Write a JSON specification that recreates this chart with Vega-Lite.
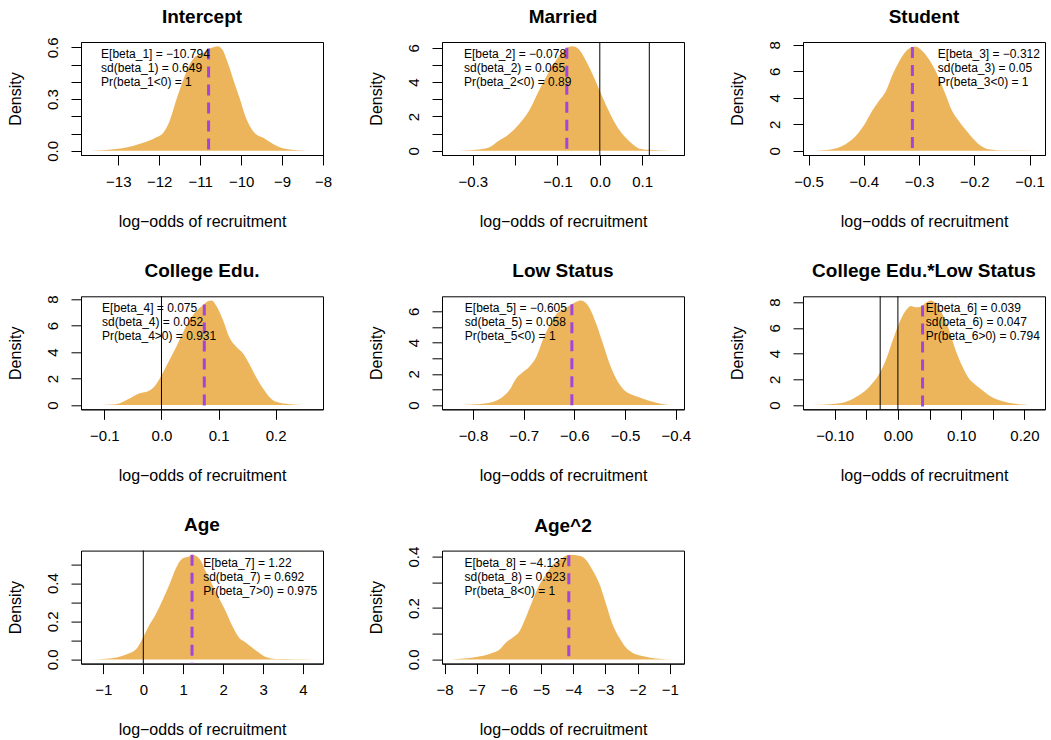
{
"$schema":"https://vega.github.io/schema/vega-lite/v6.json",
"padding":{"left":6,"top":7,"right":0,"bottom":0},
"config":{"font":"Liberation Sans","view":{"stroke":"black","strokeWidth":1},
"axis":{"grid":false,"domainColor":"black","tickColor":"black","labelColor":"black","titleColor":"black","tickSize":10,"labelFontSize":15,"titleFontSize":16,"titleFontWeight":"normal","labelFlush":false,"labelOverlap":false,"labelBound":false},
"axisX":{"labelPadding":9,"titlePadding":24,"labelAngle":0,"labelBaseline":"top"},
"axisY":{"labelAngle":270,"labelAlign":"center","labelBaseline":"alphabetic","labelPadding":14,"titlePadding":22},
"title":{"fontSize":19,"fontWeight":"bold","anchor":"middle","frame":"group","offset":15,"color":"black"}},
"datasets":{
"dens":[
{"p":1,"x":-13.69,"y":0},{"p":1,"x":-13.4,"y":0.003},{"p":1,"x":-13.06,"y":0.01},{"p":1,"x":-12.75,"y":0.022},{"p":1,"x":-12.49,"y":0.04},{"p":1,"x":-12.25,"y":0.058},{"p":1,"x":-12.08,"y":0.077},{"p":1,"x":-11.9,"y":0.105},{"p":1,"x":-11.75,"y":0.17},{"p":1,"x":-11.59,"y":0.29},{"p":1,"x":-11.43,"y":0.4},{"p":1,"x":-11.26,"y":0.5},{"p":1,"x":-11.1,"y":0.55},{"p":1,"x":-10.94,"y":0.565},{"p":1,"x":-10.8,"y":0.59},{"p":1,"x":-10.7,"y":0.6},{"p":1,"x":-10.57,"y":0.607},{"p":1,"x":-10.45,"y":0.585},{"p":1,"x":-10.37,"y":0.54},{"p":1,"x":-10.28,"y":0.48},{"p":1,"x":-10.2,"y":0.42},{"p":1,"x":-10.04,"y":0.31},{"p":1,"x":-9.88,"y":0.19},{"p":1,"x":-9.71,"y":0.115},{"p":1,"x":-9.6,"y":0.09},{"p":1,"x":-9.47,"y":0.077},{"p":1,"x":-9.35,"y":0.058},{"p":1,"x":-9.22,"y":0.04},{"p":1,"x":-8.98,"y":0.015},{"p":1,"x":-8.75,"y":0.006},{"p":1,"x":-8.5,"y":0.002},{"p":1,"x":-8.22,"y":0},
{"p":2,"x":-0.352,"y":0},{"p":2,"x":-0.32,"y":0.02},{"p":2,"x":-0.294,"y":0.06},{"p":2,"x":-0.262,"y":0.19},{"p":2,"x":-0.239,"y":0.58},{"p":2,"x":-0.215,"y":0.97},{"p":2,"x":-0.191,"y":1.55},{"p":2,"x":-0.168,"y":2.3},{"p":2,"x":-0.144,"y":3.5},{"p":2,"x":-0.12,"y":4.6},{"p":2,"x":-0.097,"y":5.5},{"p":2,"x":-0.078,"y":6.0},{"p":2,"x":-0.065,"y":6.09},{"p":2,"x":-0.049,"y":5.9},{"p":2,"x":-0.034,"y":5.3},{"p":2,"x":-0.018,"y":4.5},{"p":2,"x":-0.002,"y":3.6},{"p":2,"x":0.014,"y":2.7},{"p":2,"x":0.029,"y":1.93},{"p":2,"x":0.045,"y":1.26},{"p":2,"x":0.061,"y":0.77},{"p":2,"x":0.077,"y":0.39},{"p":2,"x":0.092,"y":0.14},{"p":2,"x":0.116,"y":0.06},{"p":2,"x":0.155,"y":0.02},{"p":2,"x":0.178,"y":0},
{"p":3,"x":-0.494,"y":0},{"p":3,"x":-0.457,"y":0.12},{"p":3,"x":-0.433,"y":0.5},{"p":3,"x":-0.415,"y":1.1},{"p":3,"x":-0.397,"y":2.1},{"p":3,"x":-0.385,"y":3.0},{"p":3,"x":-0.373,"y":3.75},{"p":3,"x":-0.36,"y":4.5},{"p":3,"x":-0.348,"y":5.75},{"p":3,"x":-0.336,"y":6.75},{"p":3,"x":-0.324,"y":7.5},{"p":3,"x":-0.312,"y":7.83},{"p":3,"x":-0.306,"y":7.87},{"p":3,"x":-0.3,"y":7.75},{"p":3,"x":-0.288,"y":7.25},{"p":3,"x":-0.276,"y":6.5},{"p":3,"x":-0.264,"y":5.5},{"p":3,"x":-0.252,"y":4.25},{"p":3,"x":-0.24,"y":3.0},{"p":3,"x":-0.228,"y":2.25},{"p":3,"x":-0.216,"y":1.6},{"p":3,"x":-0.204,"y":1.0},{"p":3,"x":-0.192,"y":0.5},{"p":3,"x":-0.174,"y":0.12},{"p":3,"x":-0.144,"y":0.03},{"p":3,"x":-0.12,"y":0.03},{"p":3,"x":-0.088,"y":0},
{"p":4,"x":-0.125,"y":0},{"p":4,"x":-0.08,"y":0.07},{"p":4,"x":-0.056,"y":0.5},{"p":4,"x":-0.039,"y":0.87},{"p":4,"x":-0.021,"y":1.1},{"p":4,"x":-0.009,"y":1.6},{"p":4,"x":0.002,"y":2.4},{"p":4,"x":0.014,"y":3.4},{"p":4,"x":0.026,"y":4.4},{"p":4,"x":0.037,"y":5.4},{"p":4,"x":0.049,"y":6.4},{"p":4,"x":0.061,"y":7.1},{"p":4,"x":0.073,"y":7.55},{"p":4,"x":0.081,"y":7.85},{"p":4,"x":0.088,"y":7.9},{"p":4,"x":0.096,"y":7.5},{"p":4,"x":0.108,"y":6.4},{"p":4,"x":0.119,"y":5.1},{"p":4,"x":0.131,"y":4.4},{"p":4,"x":0.143,"y":3.9},{"p":4,"x":0.154,"y":3.1},{"p":4,"x":0.166,"y":2.1},{"p":4,"x":0.178,"y":1.25},{"p":4,"x":0.189,"y":0.62},{"p":4,"x":0.201,"y":0.25},{"p":4,"x":0.225,"y":0.07},{"p":4,"x":0.267,"y":0},
{"p":5,"x":-0.843,"y":0},{"p":5,"x":-0.793,"y":0.06},{"p":5,"x":-0.761,"y":0.2},{"p":5,"x":-0.741,"y":0.53},{"p":5,"x":-0.728,"y":0.96},{"p":5,"x":-0.715,"y":1.7},{"p":5,"x":-0.702,"y":2.1},{"p":5,"x":-0.689,"y":2.46},{"p":5,"x":-0.675,"y":3.1},{"p":5,"x":-0.662,"y":4.2},{"p":5,"x":-0.649,"y":5.1},{"p":5,"x":-0.636,"y":5.8},{"p":5,"x":-0.623,"y":6.1},{"p":5,"x":-0.61,"y":6.35},{"p":5,"x":-0.597,"y":6.6},{"p":5,"x":-0.587,"y":6.69},{"p":5,"x":-0.57,"y":6.2},{"p":5,"x":-0.557,"y":5.2},{"p":5,"x":-0.544,"y":3.95},{"p":5,"x":-0.531,"y":2.67},{"p":5,"x":-0.518,"y":1.7},{"p":5,"x":-0.505,"y":1.07},{"p":5,"x":-0.485,"y":0.64},{"p":5,"x":-0.466,"y":0.43},{"p":5,"x":-0.446,"y":0.21},{"p":5,"x":-0.426,"y":0.06},{"p":5,"x":-0.402,"y":0},
{"p":6,"x":-0.136,"y":0},{"p":6,"x":-0.103,"y":0.08},{"p":6,"x":-0.082,"y":0.26},{"p":6,"x":-0.061,"y":0.78},{"p":6,"x":-0.045,"y":1.43},{"p":6,"x":-0.029,"y":2.47},{"p":6,"x":-0.019,"y":3.5},{"p":6,"x":-0.008,"y":5.06},{"p":6,"x":0.003,"y":6.5},{"p":6,"x":0.013,"y":7.4},{"p":6,"x":0.021,"y":7.7},{"p":6,"x":0.028,"y":7.6},{"p":6,"x":0.036,"y":7.65},{"p":6,"x":0.044,"y":7.95},{"p":6,"x":0.052,"y":8.13},{"p":6,"x":0.06,"y":7.9},{"p":6,"x":0.07,"y":7.1},{"p":6,"x":0.081,"y":5.84},{"p":6,"x":0.091,"y":4.3},{"p":6,"x":0.102,"y":3.0},{"p":6,"x":0.112,"y":2.08},{"p":6,"x":0.123,"y":1.56},{"p":6,"x":0.133,"y":1.17},{"p":6,"x":0.143,"y":0.78},{"p":6,"x":0.159,"y":0.39},{"p":6,"x":0.175,"y":0.18},{"p":6,"x":0.196,"y":0.05},{"p":6,"x":0.218,"y":0},
{"p":7,"x":-1.336,"y":0},{"p":7,"x":-0.85,"y":0.005},{"p":7,"x":-0.43,"y":0.026},{"p":7,"x":-0.18,"y":0.053},{"p":7,"x":-0.017,"y":0.11},{"p":7,"x":0.15,"y":0.18},{"p":7,"x":0.32,"y":0.24},{"p":7,"x":0.48,"y":0.31},{"p":7,"x":0.65,"y":0.39},{"p":7,"x":0.82,"y":0.48},{"p":7,"x":0.98,"y":0.53},{"p":7,"x":1.15,"y":0.54},{"p":7,"x":1.23,"y":0.549},{"p":7,"x":1.4,"y":0.53},{"p":7,"x":1.57,"y":0.46},{"p":7,"x":1.73,"y":0.39},{"p":7,"x":1.9,"y":0.32},{"p":7,"x":2.07,"y":0.25},{"p":7,"x":2.23,"y":0.175},{"p":7,"x":2.4,"y":0.114},{"p":7,"x":2.57,"y":0.088},{"p":7,"x":2.73,"y":0.061},{"p":7,"x":2.9,"y":0.035},{"p":7,"x":3.07,"y":0.012},{"p":7,"x":3.32,"y":0.002},{"p":7,"x":3.8,"y":0.001},{"p":7,"x":4.276,"y":0},
{"p":8,"x":-7.8,"y":0},{"p":8,"x":-7.02,"y":0.009},{"p":8,"x":-6.5,"y":0.026},{"p":8,"x":-6.29,"y":0.039},{"p":8,"x":-6.09,"y":0.066},{"p":8,"x":-5.88,"y":0.085},{"p":8,"x":-5.67,"y":0.11},{"p":8,"x":-5.47,"y":0.164},{"p":8,"x":-5.26,"y":0.23},{"p":8,"x":-5.05,"y":0.29},{"p":8,"x":-4.85,"y":0.33},{"p":8,"x":-4.64,"y":0.367},{"p":8,"x":-4.43,"y":0.387},{"p":8,"x":-4.12,"y":0.407},{"p":8,"x":-3.81,"y":0.403},{"p":8,"x":-3.6,"y":0.387},{"p":8,"x":-3.4,"y":0.348},{"p":8,"x":-3.19,"y":0.295},{"p":8,"x":-2.98,"y":0.216},{"p":8,"x":-2.78,"y":0.138},{"p":8,"x":-2.57,"y":0.085},{"p":8,"x":-2.36,"y":0.046},{"p":8,"x":-2.16,"y":0.026},{"p":8,"x":-1.85,"y":0.013},{"p":8,"x":-1.43,"y":0.004},{"p":8,"x":-0.835,"y":0}
],
"info":[
{"p":1,"x":-10.794,"y":0.594,"tx":-13.42,"label":"E[beta_1] = −10.794\nsd(beta_1) = 0.649\nPr(beta_1<0) = 1"},
{"p":2,"x":-0.078,"y":6.0,"tx":-0.321,"label":"E[beta_2] = −0.078\nsd(beta_2) = 0.065\nPr(beta_2<0) = 0.89"},
{"p":3,"x":-0.312,"y":7.83,"tx":-0.266,"label":"E[beta_3] = −0.312\nsd(beta_3) = 0.05\nPr(beta_3<0) = 1"},
{"p":4,"x":0.075,"y":7.6,"tx":-0.104,"label":"E[beta_4] = 0.075\nsd(beta_4) = 0.052\nPr(beta_4>0) = 0.931"},
{"p":5,"x":-0.605,"y":6.45,"tx":-0.816,"label":"E[beta_5] = −0.605\nsd(beta_5) = 0.058\nPr(beta_5<0) = 1"},
{"p":6,"x":0.039,"y":7.75,"tx":0.044,"label":"E[beta_6] = 0.039\nsd(beta_6) = 0.047\nPr(beta_6>0) = 0.794"},
{"p":7,"x":1.22,"y":0.549,"tx":1.5,"label":"E[beta_7] = 1.22\nsd(beta_7) = 0.692\nPr(beta_7>0) = 0.975"},
{"p":8,"x":-4.137,"y":0.405,"tx":-7.38,"label":"E[beta_8] = −4.137\nsd(beta_8) = 0.923\nPr(beta_8<0) = 1"}
],
"vlines":[{"p":2,"x":0},{"p":2,"x":0.117},{"p":4,"x":0},{"p":6,"x":-0.028},{"p":6,"x":0},{"p":7,"x":0}]
},
"columns":3,
"spacing":{"row":141.3,"column":119},
"bounds":"flush",
"concat":[
{"width":242,"height":113,"title":{"text":"Intercept","dy":5},
"encoding":{"x":{"field":"x","type":"quantitative","scale":{"domain":[-13.91,-8.0],"nice":false,"zero":false},"axis":{"title":"log−odds of recruitment","values":[-13,-12,-11,-10,-9,-8],"format":"d"}}},
"layer":[
{"data":{"name":"dens"},"transform":[{"filter":"datum.p==1"}],"mark":{"type":"area","color":"#EDB55B","interpolate":"monotone"},"encoding":{"y":{"field":"y","type":"quantitative","scale":{"domain":[-0.0243,0.6313],"nice":false,"zero":false},"axis":{"title":"Density","values":[0,0.1,0.2,0.3,0.4,0.5,0.6],"format":".1f","labelExpr":"round(datum.value*10)%3==0 ? datum.label : ''"}},"y2":{"datum":0}}},
{"data":{"name":"info"},"transform":[{"filter":"datum.p==1"}],"mark":{"type":"rule","color":"#A046DC","strokeWidth":3,"strokeDash":[11,7]},"encoding":{"y":{"field":"y","type":"quantitative","scale":{"domain":[-0.0243,0.6313],"nice":false,"zero":false},"axis":{"title":"Density","values":[0,0.1,0.2,0.3,0.4,0.5,0.6],"format":".1f","labelExpr":"round(datum.value*10)%3==0 ? datum.label : ''"}},"y2":{"datum":-0.0243}}},
{"data":{"name":"info"},"transform":[{"filter":"datum.p==1"}],"mark":{"type":"text","align":"left","baseline":"top","lineBreak":"\n","fontSize":12,"lineHeight":14,"dy":7},"encoding":{"x":{"field":"tx","type":"quantitative"},"y":{"datum":0.6313,"axis":{"title":"Density","values":[0,0.1,0.2,0.3,0.4,0.5,0.6],"format":".1f","labelExpr":"round(datum.value*10)%3==0 ? datum.label : ''"}},"text":{"field":"label"}}}
]},
{"width":242,"height":113,"title":"Married",
"encoding":{"x":{"field":"x","type":"quantitative","scale":{"domain":[-0.373,0.199],"nice":false,"zero":false},"axis":{"title":"log−odds of recruitment","values":[-0.3,-0.2,-0.1,0,0.1],"format":".1f","labelExpr":"abs(datum.value+0.2)<0.001 ? '' : datum.label"}}},
"layer":[
{"data":{"name":"dens"},"transform":[{"filter":"datum.p==2"}],"mark":{"type":"area","color":"#EDB55B","interpolate":"monotone"},"encoding":{"y":{"field":"y","type":"quantitative","scale":{"domain":[-0.2436,6.3336],"nice":false,"zero":false},"axis":{"title":"Density","values":[0,1,2,3,4,5,6],"format":"d","labelExpr":"round(datum.value)%2==0 ? datum.label : ''"}},"y2":{"datum":0}}},
{"data":{"name":"vlines"},"transform":[{"filter":"datum.p==2"}],"mark":{"type":"rule","color":"black","strokeWidth":1},"encoding":{}},
{"data":{"name":"info"},"transform":[{"filter":"datum.p==2"}],"mark":{"type":"rule","color":"#A046DC","strokeWidth":3,"strokeDash":[11,7]},"encoding":{"y":{"field":"y","type":"quantitative","scale":{"domain":[-0.2436,6.3336],"nice":false,"zero":false},"axis":{"title":"Density","values":[0,1,2,3,4,5,6],"format":"d","labelExpr":"round(datum.value)%2==0 ? datum.label : ''"}},"y2":{"datum":-0.2436}}},
{"data":{"name":"info"},"transform":[{"filter":"datum.p==2"}],"mark":{"type":"text","align":"left","baseline":"top","lineBreak":"\n","fontSize":12,"lineHeight":14,"dy":7},"encoding":{"x":{"field":"tx","type":"quantitative"},"y":{"datum":6.3336,"axis":{"title":"Density","values":[0,1,2,3,4,5,6],"format":"d","labelExpr":"round(datum.value)%2==0 ? datum.label : ''"}},"text":{"field":"label"}}}
]},
{"width":242,"height":113,"title":{"text":"Student","dy":1.3},
"encoding":{"x":{"field":"x","type":"quantitative","scale":{"domain":[-0.51,-0.072],"nice":false,"zero":false},"axis":{"title":"log−odds of recruitment","values":[-0.5,-0.4,-0.3,-0.2,-0.1],"format":".1f"}}},
"layer":[
{"data":{"name":"dens"},"transform":[{"filter":"datum.p==3"}],"mark":{"type":"area","color":"#EDB55B","interpolate":"monotone"},"encoding":{"y":{"field":"y","type":"quantitative","scale":{"domain":[-0.316,8.216],"nice":false,"zero":false},"axis":{"title":"Density","values":[0,2,4,6,8],"format":"d"}},"y2":{"datum":0}}},
{"data":{"name":"info"},"transform":[{"filter":"datum.p==3"}],"mark":{"type":"rule","color":"#A046DC","strokeWidth":3,"strokeDash":[11,7]},"encoding":{"y":{"field":"y","type":"quantitative","scale":{"domain":[-0.316,8.216],"nice":false,"zero":false},"axis":{"title":"Density","values":[0,2,4,6,8],"format":"d"}},"y2":{"datum":-0.316}}},
{"data":{"name":"info"},"transform":[{"filter":"datum.p==3"}],"mark":{"type":"text","align":"left","baseline":"top","lineBreak":"\n","fontSize":12,"lineHeight":14,"dy":7},"encoding":{"x":{"field":"tx","type":"quantitative"},"y":{"datum":8.216,"axis":{"title":"Density","values":[0,2,4,6,8],"format":"d"}},"text":{"field":"label"}}}
]},
{"width":242,"height":113,"title":{"text":"College Edu.","dy":1.3},
"encoding":{"x":{"field":"x","type":"quantitative","scale":{"domain":[-0.141,0.283],"nice":false,"zero":false},"axis":{"title":"log−odds of recruitment","values":[-0.1,0,0.1,0.2],"format":".1f"}}},
"layer":[
{"data":{"name":"dens"},"transform":[{"filter":"datum.p==4"}],"mark":{"type":"area","color":"#EDB55B","interpolate":"monotone"},"encoding":{"y":{"field":"y","type":"quantitative","scale":{"domain":[-0.316,8.216],"nice":false,"zero":false},"axis":{"title":"Density","values":[0,2,4,6,8],"format":"d"}},"y2":{"datum":0}}},
{"data":{"name":"vlines"},"transform":[{"filter":"datum.p==4"}],"mark":{"type":"rule","color":"black","strokeWidth":1},"encoding":{}},
{"data":{"name":"info"},"transform":[{"filter":"datum.p==4"}],"mark":{"type":"rule","color":"#A046DC","strokeWidth":3,"strokeDash":[11,7]},"encoding":{"y":{"field":"y","type":"quantitative","scale":{"domain":[-0.316,8.216],"nice":false,"zero":false},"axis":{"title":"Density","values":[0,2,4,6,8],"format":"d"}},"y2":{"datum":-0.316}}},
{"data":{"name":"info"},"transform":[{"filter":"datum.p==4"}],"mark":{"type":"text","align":"left","baseline":"top","lineBreak":"\n","fontSize":12,"lineHeight":14,"dy":7},"encoding":{"x":{"field":"tx","type":"quantitative"},"y":{"datum":8.216,"axis":{"title":"Density","values":[0,2,4,6,8],"format":"d"}},"text":{"field":"label"}}}
]},
{"width":242,"height":113,"title":"Low Status",
"encoding":{"x":{"field":"x","type":"quantitative","scale":{"domain":[-0.861,-0.384],"nice":false,"zero":false},"axis":{"title":"log−odds of recruitment","values":[-0.8,-0.7,-0.6,-0.5,-0.4],"format":".1f"}}},
"layer":[
{"data":{"name":"dens"},"transform":[{"filter":"datum.p==5"}],"mark":{"type":"area","color":"#EDB55B","interpolate":"monotone"},"encoding":{"y":{"field":"y","type":"quantitative","scale":{"domain":[-0.2676,6.9576],"nice":false,"zero":false},"axis":{"title":"Density","values":[0,1,2,3,4,5,6],"format":"d","labelExpr":"round(datum.value)%2==0 ? datum.label : ''"}},"y2":{"datum":0}}},
{"data":{"name":"info"},"transform":[{"filter":"datum.p==5"}],"mark":{"type":"rule","color":"#A046DC","strokeWidth":3,"strokeDash":[11,7]},"encoding":{"y":{"field":"y","type":"quantitative","scale":{"domain":[-0.2676,6.9576],"nice":false,"zero":false},"axis":{"title":"Density","values":[0,1,2,3,4,5,6],"format":"d","labelExpr":"round(datum.value)%2==0 ? datum.label : ''"}},"y2":{"datum":-0.2676}}},
{"data":{"name":"info"},"transform":[{"filter":"datum.p==5"}],"mark":{"type":"text","align":"left","baseline":"top","lineBreak":"\n","fontSize":12,"lineHeight":14,"dy":7},"encoding":{"x":{"field":"tx","type":"quantitative"},"y":{"datum":6.9576,"axis":{"title":"Density","values":[0,1,2,3,4,5,6],"format":"d","labelExpr":"round(datum.value)%2==0 ? datum.label : ''"}},"text":{"field":"label"}}}
]},
{"width":242,"height":113,"title":"College Edu.*Low Status",
"encoding":{"x":{"field":"x","type":"quantitative","scale":{"domain":[-0.15,0.2325],"nice":false,"zero":false},"axis":{"title":"log−odds of recruitment","values":[-0.1,-0.05,0,0.05,0.1,0.15,0.2],"format":".2f","labelExpr":"abs(round(datum.value*100))%10==5 ? '' : datum.label"}}},
"layer":[
{"data":{"name":"dens"},"transform":[{"filter":"datum.p==6"}],"mark":{"type":"area","color":"#EDB55B","interpolate":"monotone"},"encoding":{"y":{"field":"y","type":"quantitative","scale":{"domain":[-0.3252,8.4552],"nice":false,"zero":false},"axis":{"title":"Density","values":[0,2,4,6,8],"format":"d"}},"y2":{"datum":0}}},
{"data":{"name":"vlines"},"transform":[{"filter":"datum.p==6"}],"mark":{"type":"rule","color":"black","strokeWidth":1},"encoding":{}},
{"data":{"name":"info"},"transform":[{"filter":"datum.p==6"}],"mark":{"type":"rule","color":"#A046DC","strokeWidth":3,"strokeDash":[11,7]},"encoding":{"y":{"field":"y","type":"quantitative","scale":{"domain":[-0.3252,8.4552],"nice":false,"zero":false},"axis":{"title":"Density","values":[0,2,4,6,8],"format":"d"}},"y2":{"datum":-0.3252}}},
{"data":{"name":"info"},"transform":[{"filter":"datum.p==6"}],"mark":{"type":"text","align":"left","baseline":"top","lineBreak":"\n","fontSize":12,"lineHeight":14,"dy":7},"encoding":{"x":{"field":"tx","type":"quantitative"},"y":{"datum":8.4552,"axis":{"title":"Density","values":[0,2,4,6,8],"format":"d"}},"text":{"field":"label"}}}
]},
{"width":242,"height":113,"title":"Age",
"encoding":{"x":{"field":"x","type":"quantitative","scale":{"domain":[-1.56,4.5],"nice":false,"zero":false},"axis":{"title":"log−odds of recruitment","values":[-1,0,1,2,3,4],"format":"d"}}},
"layer":[
{"data":{"name":"dens"},"transform":[{"filter":"datum.p==7"}],"mark":{"type":"area","color":"#EDB55B","interpolate":"monotone"},"encoding":{"y":{"field":"y","type":"quantitative","scale":{"domain":[-0.022,0.571],"nice":false,"zero":false},"axis":{"title":"Density","values":[0,0.1,0.2,0.3,0.4,0.5],"format":".1f","labelExpr":"round(datum.value*10)%2==0 ? datum.label : ''"}},"y2":{"datum":0}}},
{"data":{"name":"vlines"},"transform":[{"filter":"datum.p==7"}],"mark":{"type":"rule","color":"black","strokeWidth":1},"encoding":{}},
{"data":{"name":"info"},"transform":[{"filter":"datum.p==7"}],"mark":{"type":"rule","color":"#A046DC","strokeWidth":3,"strokeDash":[11,7]},"encoding":{"y":{"field":"y","type":"quantitative","scale":{"domain":[-0.022,0.571],"nice":false,"zero":false},"axis":{"title":"Density","values":[0,0.1,0.2,0.3,0.4,0.5],"format":".1f","labelExpr":"round(datum.value*10)%2==0 ? datum.label : ''"}},"y2":{"datum":-0.022}}},
{"data":{"name":"info"},"transform":[{"filter":"datum.p==7"}],"mark":{"type":"text","align":"left","baseline":"top","lineBreak":"\n","fontSize":12,"lineHeight":14,"dy":7},"encoding":{"x":{"field":"tx","type":"quantitative"},"y":{"datum":0.571,"axis":{"title":"Density","values":[0,0.1,0.2,0.3,0.4,0.5],"format":".1f","labelExpr":"round(datum.value*10)%2==0 ? datum.label : ''"}},"text":{"field":"label"}}}
]},
{"width":242,"height":113,"title":{"text":"Age^2","dy":4.4},
"encoding":{"x":{"field":"x","type":"quantitative","scale":{"domain":[-8.08,-0.556],"nice":false,"zero":false},"axis":{"title":"log−odds of recruitment","values":[-8,-7,-6,-5,-4,-3,-2,-1],"format":"d"}}},
"layer":[
{"data":{"name":"dens"},"transform":[{"filter":"datum.p==8"}],"mark":{"type":"area","color":"#EDB55B","interpolate":"monotone"},"encoding":{"y":{"field":"y","type":"quantitative","scale":{"domain":[-0.0163,0.4233],"nice":false,"zero":false},"axis":{"title":"Density","values":[0,0.1,0.2,0.3,0.4],"format":".1f","labelExpr":"round(datum.value*10)%2==0 ? datum.label : ''"}},"y2":{"datum":0}}},
{"data":{"name":"info"},"transform":[{"filter":"datum.p==8"}],"mark":{"type":"rule","color":"#A046DC","strokeWidth":3,"strokeDash":[11,7]},"encoding":{"y":{"field":"y","type":"quantitative","scale":{"domain":[-0.0163,0.4233],"nice":false,"zero":false},"axis":{"title":"Density","values":[0,0.1,0.2,0.3,0.4],"format":".1f","labelExpr":"round(datum.value*10)%2==0 ? datum.label : ''"}},"y2":{"datum":-0.0163}}},
{"data":{"name":"info"},"transform":[{"filter":"datum.p==8"}],"mark":{"type":"text","align":"left","baseline":"top","lineBreak":"\n","fontSize":12,"lineHeight":14,"dy":7},"encoding":{"x":{"field":"tx","type":"quantitative"},"y":{"datum":0.4233,"axis":{"title":"Density","values":[0,0.1,0.2,0.3,0.4],"format":".1f","labelExpr":"round(datum.value*10)%2==0 ? datum.label : ''"}},"text":{"field":"label"}}}
]}
]
}
